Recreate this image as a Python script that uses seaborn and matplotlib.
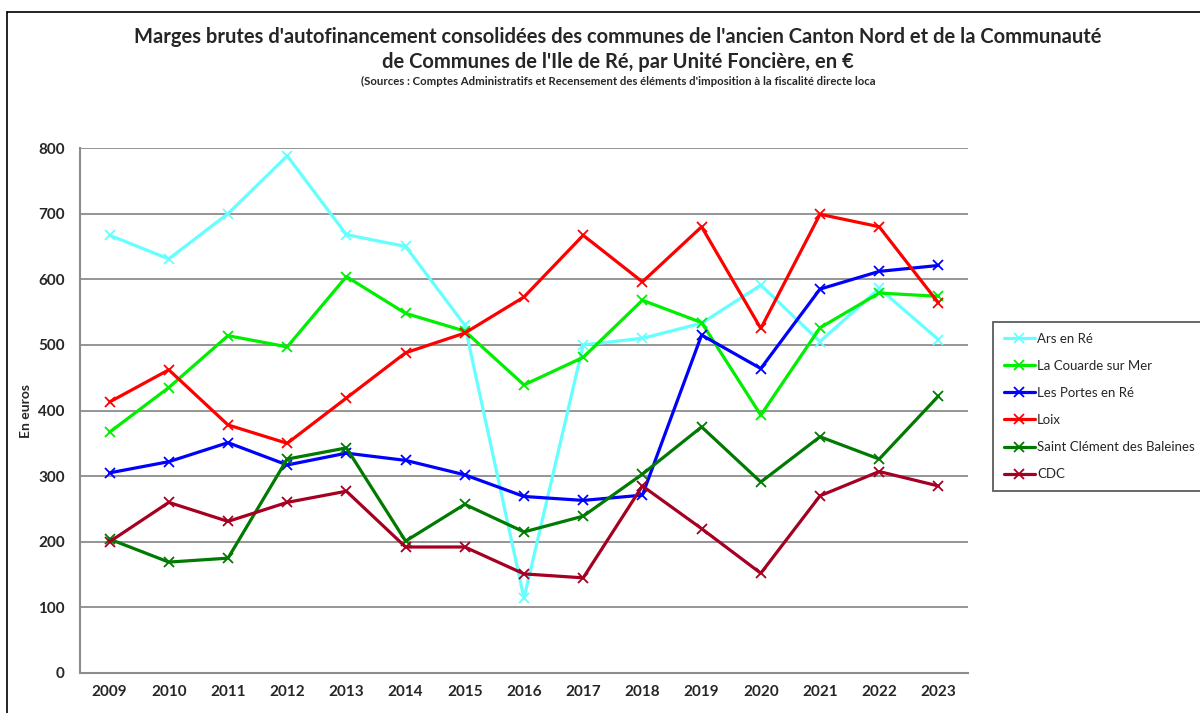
import matplotlib
matplotlib.use("Agg")
import matplotlib.pyplot as plt
from matplotlib.lines import Line2D
from matplotlib.ticker import FixedLocator, NullFormatter
import seaborn as sns
import pandas as pd

years = [2009, 2010, 2011, 2012, 2013, 2014, 2015, 2016, 2017, 2018, 2019, 2020, 2021, 2022, 2023]
ars = [667, 631, 700, 788, 668, 650, 530, 114, 500, 510, 533, 591, 505, 586, 508]
couarde = [367, 435, 514, 497, 604, 548, 521, 439, 481, 568, 534, 393, 526, 579, 574]
portes = [305, 322, 351, 317, 335, 324, 302, 269, 263, 271, 515, 464, 585, 612, 621]
loix = [413, 462, 378, 350, 419, 488, 518, 573, 667, 596, 680, 525, 699, 680, 564]
clement = [204, 169, 175, 326, 343, 201, 257, 215, 239, 303, 375, 291, 360, 326, 422]
cdc = [200, 260, 231, 260, 277, 192, 192, 151, 145, 285, 220, 152, 270, 307, 285]

series_names = ["Ars en Ré", "La Couarde sur Mer", "Les Portes en Ré", "Loix",
                "Saint Clément des Baleines", "CDC"]
series_values = [ars, couarde, portes, loix, clement, cdc]
colors = ["#66FFFF", "#00EE00", "#0000FF", "#FF0000", "#007A00", "#A50021"]

title1 = "Marges brutes d'autofinancement consolidées des communes de l'ancien Canton Nord et de la Communauté"
title2 = "de Communes de l'Ile de Ré, par Unité Foncière, en €"
title3 = "(Sources : Comptes Administratifs et Recensement des éléments d'imposition à la fiscalité directe loca"
ylabel = "En euros"

rows = []
for name, vals in zip(series_names, series_values):
    for i, v in enumerate(vals):
        rows.append({"pos": i, "val": v, "serie": name})
df = pd.DataFrame(rows)

sns.set_style("white")
plt.rcParams["font.family"] = ["Lato", "DejaVu Sans"]

fig = plt.figure(figsize=(12, 7.13), dpi=100)
ax = fig.add_axes([80 / 1200, 40 / 713, 888 / 1200, 525 / 713])

sns.lineplot(data=df, x="pos", y="val", hue="serie", hue_order=series_names,
             palette=colors, marker="x", markersize=6.5, markeredgewidth=1.3,
             linewidth=2.3, ax=ax, legend=False, zorder=3)
for ln in ax.lines:
    ln.set_markeredgecolor(ln.get_color())
    ln.set_markerfacecolor(ln.get_color())

ax.set_xlim(-0.5, len(years) - 0.5)
ax.set_ylim(0, 800)
ax.set_yticks(range(0, 801, 100))
ax.yaxis.grid(True, color="#8c8c8c", linewidth=1.3, zorder=0)
ax.xaxis.grid(False)
ax.set_axisbelow(True)

ax.xaxis.set_major_locator(FixedLocator([i - 0.5 for i in range(len(years) + 1)]))
ax.xaxis.set_major_formatter(NullFormatter())
ax.xaxis.set_minor_locator(FixedLocator(list(range(len(years)))))
ax.set_xticklabels([str(y) for y in years], minor=True)
ax.tick_params(axis="x", which="major", length=6, width=1.3, color="#8c8c8c", direction="out")
ax.tick_params(axis="x", which="minor", length=0, pad=9, labelsize=11)
ax.tick_params(axis="y", length=6, width=1.3, color="#8c8c8c", direction="out", labelsize=11, pad=5)
for lab in ax.get_xticklabels(minor=True) + ax.get_yticklabels():
    lab.set_fontweight("bold")

for s in ["top", "right"]:
    ax.spines[s].set_visible(False)
for s in ["left", "bottom"]:
    ax.spines[s].set_color("#8c8c8c")
    ax.spines[s].set_linewidth(1.5)

ax.set_xlabel("")
ax.set_ylabel(ylabel, fontsize=10, fontweight="bold", labelpad=4)

fig.text(618 / 1200, 1 - 37 / 713, title1, ha="center", va="center", fontsize=14.5, fontweight="bold")
fig.text(618 / 1200, 1 - 62 / 713, title2, ha="center", va="center", fontsize=14.5, fontweight="bold")
fig.text(618 / 1200, 1 - 81 / 713, title3, ha="center", va="center", fontsize=8.2, fontweight="bold")

handles = [Line2D([], [], color=c, linewidth=2.3, marker="x", markersize=6.5, markeredgewidth=1.3)
           for c in colors]
leg = fig.legend(handles, series_names, loc="upper left",
                 bbox_to_anchor=(993 / 1200, 1 - 322 / 713), frameon=True, fancybox=False,
                 edgecolor="#333333", fontsize=9.5, handlelength=2.4, handletextpad=0.15,
                 labelspacing=1.15, borderpad=0.8, borderaxespad=0)
leg.get_frame().set_linewidth(1.3)

fig.add_artist(Line2D([7 / 1200, 7 / 1200], [-0.1, 1 - 12 / 713], color="black", linewidth=1.2,
                      transform=fig.transFigure))
fig.add_artist(Line2D([7 / 1200, 1.1], [1 - 12 / 713, 1 - 12 / 713], color="black", linewidth=1.2,
                      transform=fig.transFigure))

fig.savefig("out.png", dpi=100)
